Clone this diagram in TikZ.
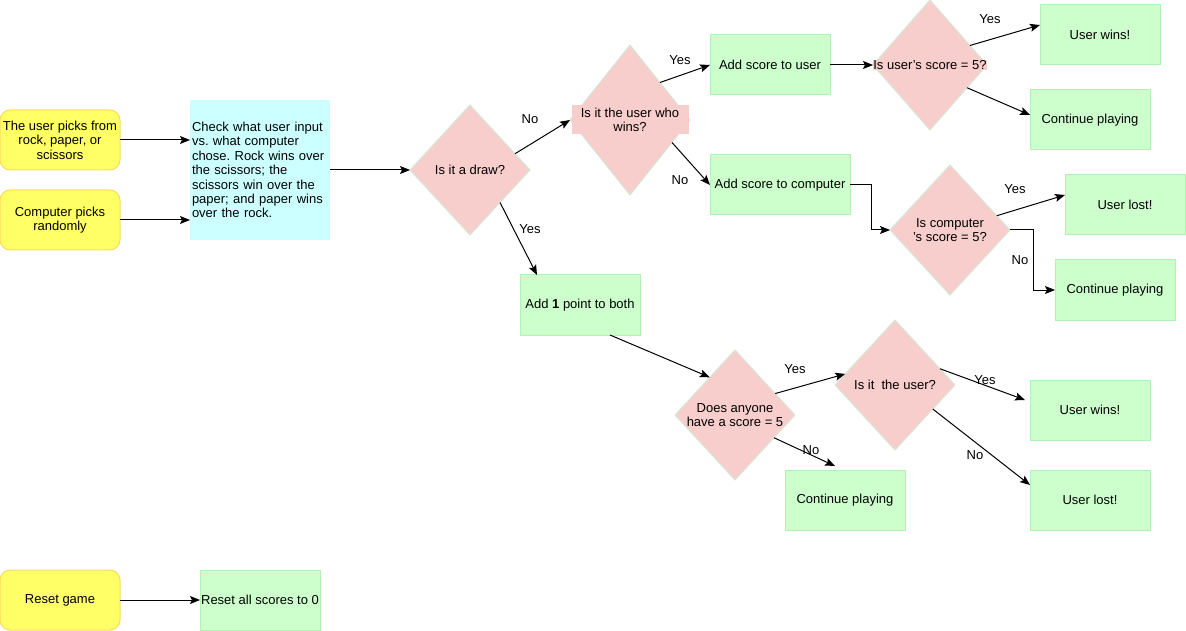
\documentclass[tikz,border=0pt]{standalone}
\usepackage{fontspec}
\setmainfont{Liberation Sans}
\frenchspacing
\usetikzlibrary{calc,shapes.geometric,arrows.meta}
\definecolor{pickfill}{HTML}{FFFF66}
\definecolor{pickline}{HTML}{FFD966}
\definecolor{stepfill}{HTML}{CCFFCC}
\definecolor{stepline}{HTML}{B3F2B3}
\definecolor{askfill}{HTML}{F8CECC}
\definecolor{askline}{HTML}{D5E8D4}
\definecolor{rulefill}{HTML}{CCFFFF}
\tikzset{
	pick/.style={draw=pickline, fill=pickfill, line width=0.75pt, rounded corners=7.5pt, minimum width=90pt, minimum height=45pt, inner sep=0pt, align=center},
	stepbox/.style={draw=stepline, fill=stepfill, line width=0.75pt, minimum width=90pt, minimum height=45pt, inner sep=0pt, align=center},
	rulebox/.style={fill=rulefill, minimum width=105pt, minimum height=105pt, inner xsep=1.5pt, text width=102pt, align=left},
	ask/.style={shape=diamond, draw=askline, fill=askfill, line width=0.75pt, minimum width=90pt, minimum height=97.5pt, inner sep=0pt},
	asktext/.style={align=center, inner sep=0pt},
	asktextbg/.style={align=center, inner sep=0pt, fill=askfill},
	ans/.style={inner sep=0pt},
	flow/.style={line width=0.75pt, -{Stealth[length=7.5pt,width=6pt,inset=1.5pt]}}
}

\begin{document}
\begin{tikzpicture}[x=0.75pt, y=-0.75pt, every node/.style={font=\fontsize{9.75}{10.8}\selectfont, outer sep=0pt}]
			%%%%% START %%%%%
			\useasboundingbox (0,0) rectangle (1186,631);
			
			% inputs
			\node[pick] (user) at (60,140) {The user picks from\\rock, paper, or\\scissors};
			\node[pick] (comp) at (60,220) {Computer picks\\randomly};
			\node[rulebox] (check) at (260,170) {Check what user input\\vs. what computer\\chose. Rock wins over\\the scissors; the\\scissors win over the\\paper; and paper wins\\over the rock.};
			
			\draw[flow] (user.east) -- (user.east -| check.west);
			\draw[flow] (comp.east) -- (comp.east -| check.west);
			
			% first questions
			\node[ask, label={[asktext]center:Is it a draw?}] (draw) at (470,170) {};
			\node[ask, minimum height=112.5pt, label={[asktextbg, minimum width=87.75pt, minimum height=21.75pt]center:{Is it the user who\\wins?}}] (who) at (630,120) {};
			\node[stepbox] (adduser) at (770,65) {Add score to user};
			\node[stepbox, minimum width=105pt] (addcomp) at (780,185) {Add score to computer};
			\node[stepbox] (addboth) at (580,305) {Add \textbf{1} point to both};
			
			\draw[flow] (check.east) -- (draw.west);
			\draw[flow] ($(draw.east)!0.25!(draw.north)$) -- (who.west);
			\draw[flow] ($(draw.east)!0.5!(draw.south)$) -- ($(addboth.north west)+(17,0)$);
			\draw[flow] ($(who.north)!0.5!(who.east)$) -- (adduser.west);
			\draw[flow] ($(who.east)!0.3!(who.south)$) -- (addcomp.west);
			
			\node[ans] (no1) at (530,119) {No};
			\node[ans] (yes1) at (530,229) {Yes};
			\node[ans] (yes2) at (680,60) {Yes};
			\node[ans] (no2) at (680,180) {No};
			
			% user scored
			\node[ask, minimum width=85.5pt, label={[asktextbg]center:{Is user's score = 5?}}] (isuser) at (930,65) {};
			\node[stepbox] (win1) at (1100,35) {User wins!};
			\node[stepbox] (cont1) at (1090,120) {Continue playing};
			
			\draw[flow] (adduser.east) -- (isuser.west);
			\draw[flow] ($(isuser.north)!0.7!(isuser.east)$) -- ($(win1.west)+(0,-10)$);
			\draw[flow] ($(isuser.east)!0.35!(isuser.south)$) -- ($(cont1.west)+(0,-5)$);
			\node[ans] (yes3) at (990,19) {Yes};
			
			% computer scored
			\node[ask, label={[asktext]center:{Is computer\\'s score = 5?}}] (iscomp) at (950,230) {};
			\node[stepbox] (lost1) at (1125,205) {User lost!};
			\node[stepbox] (cont2) at (1115,290) {Continue playing};
			
			\draw[flow] (addcomp.east) -- ++(21,0) |- (iscomp.west);
			\draw[flow] ($(iscomp.north)!0.78!(iscomp.east)$) -- ($(lost1.west)+(0,-10)$);
			\draw[flow] (iscomp.east) -- ++(23,0) |- (cont2.west);
			\node[ans] (yes4) at (1015,189) {Yes};
			\node[ans] (no3) at (1020,260) {No};
			
			% draw round
			\node[ask, label={[asktext]center:{Does anyone\\have a score = 5}}] (anyone) at (735,415) {};
			\node[ask, label={[asktext]center:{Is it~ the user?}}] (isit) at (895,385) {};
			\node[stepbox] (cont3) at (845,500) {Continue playing};
			\node[stepbox] (win2) at (1090,410) {User wins!};
			\node[stepbox] (lost2) at (1090,500) {User lost!};
			
			\draw[flow] ($(addboth.south)+(30,0)$) -- ($(anyone.west)!0.58!(anyone.north)$);
			\draw[flow] ($(anyone.north)!0.67!(anyone.east)$) -- ($(isit.west)!0.17!(isit.north)$);
			\draw[flow] ($(anyone.east)!0.35!(anyone.south)$) -- ($(cont3.north west)+(50,-4)$);
			\draw[flow] ($(isit.north)!0.75!(isit.east)$) -- ($(win2.west)+(-5,-10)$);
			\draw[flow] ($(isit.east)!0.37!(isit.south)$) -- ($(lost2.west)+(0,-15)$);
			\node[ans] (yes5) at (795,369) {Yes};
			\node[ans] (no4) at (811,450) {No};
			\node[ans] (yes6) at (985,380) {Yes};
			\node[ans] (no5) at (975,455) {No};
			
			% reset
			\node[pick] (reset) at (60,600) {Reset game};
			\node[stepbox] (resetall) at (260,600) {Reset all scores to 0};
			\draw[flow] (reset.east) -- (resetall.west);
			
			%%%%% END %%%%%
		\end{tikzpicture}
\end{document}
